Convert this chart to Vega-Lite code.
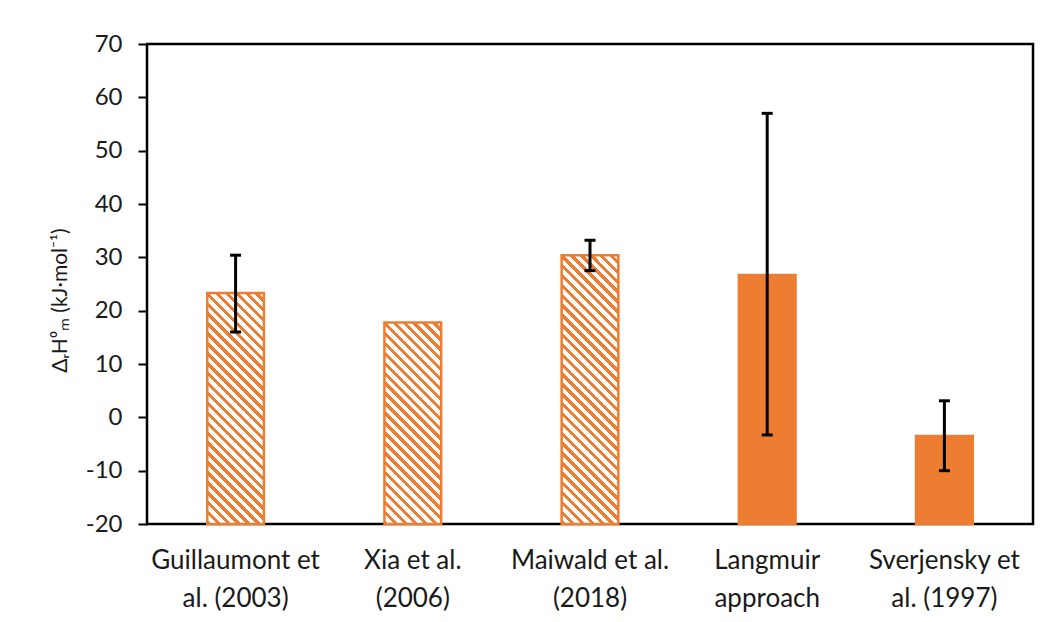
{
  "$schema": "https://vega.github.io/schema/vega-lite/v6.json",
  "autosize": {"type": "none"},
  "padding": {"left": 147, "top": 44, "right": 12, "bottom": 98},
  "width": 886,
  "height": 480,
  "background": "white",
  "config": {
    "view": {"stroke": "black", "strokeWidth": 2.5},
    "font": "Lato"
  },
  "data": {
    "values": [
      {"study": "Guillaumont et\nal. (2003)", "key": "G", "value": 23.3, "lo": 16.0, "hi": 30.4},
      {"study": "Xia et al.\n(2006)", "key": "X", "value": 17.8, "lo": null, "hi": null},
      {"study": "Maiwald et al.\n(2018)", "key": "M", "value": 30.4, "lo": 27.5, "hi": 33.2},
      {"study": "Langmuir\napproach", "key": "L", "value": 26.7, "lo": -3.3, "hi": 57.0},
      {"study": "Sverjensky et\nal. (1997)", "key": "S", "value": -3.5, "lo": -10.0, "hi": 3.1}
    ]
  },
  "encoding": {
    "x": {
      "field": "study", "type": "nominal", "sort": null,
      "scale": {"paddingInner": 0.68, "paddingOuter": 0.34},
      "axis": {
        "title": null, "labelAngle": 0, "ticks": false, "domain": false,
        "labelExpr": "split(datum.label, '\\n')",
        "labelFont": "Lato", "labelFontSize": 26, "labelColor": "#1a1a1a",
        "labelLineHeight": 38, "labelBaseline": "top", "labelPadding": 23,
        "labelLimit": 400
      }
    }
  },
  "layer": [
    {
      "mark": {"type": "bar", "stroke": "#ED7D31", "strokeWidth": 2.5},
      "encoding": {
        "y": {
          "field": "value", "type": "quantitative",
          "scale": {"domain": [-20, 70], "nice": false, "zero": false},
          "axis": {
            "values": [-20, -10, 0, 10, 20, 30, 40, 50, 60, 70],
            "labelExpr": "toString(datum.value)",
            "grid": false, "domain": false,
            "tickColor": "black", "tickSize": 9, "tickWidth": 2,
            "labelFont": "Lato", "labelFontSize": 24, "labelColor": "#1a1a1a", "labelPadding": 16,
            "title": "ΔᵣH⁰ₘ (kJ·mol⁻¹)",
            "titleFont": "Lato", "titleFontSize": 21, "titleFontWeight": "normal", "titleColor": "#1a1a1a",
            "titleX": -87, "titleY": 256, "titleAlign": "center", "titleBaseline": "middle"
          }
        },
        "y2": {"datum": -20},
        "fill": {
          "condition": [
            {"test": "datum.key === 'G'", "value": {"gradient": "linear", "x1": 0, "y1": 1, "x2": 0.2885, "y2": -0.1748, "stops": [
              {"offset": 0, "color": "#ED7D31"}, {"offset": 0.0155, "color": "#ED7D31"}, {"offset": 0.0155, "color": "#fff"}, {"offset": 0.0345, "color": "#fff"},
              {"offset": 0.0345, "color": "#ED7D31"}, {"offset": 0.05, "color": "#ED7D31"}, {"offset": 0.05, "color": "#fff"}, {"offset": 0.069, "color": "#fff"},
              {"offset": 0.069, "color": "#ED7D31"}, {"offset": 0.0845, "color": "#ED7D31"}, {"offset": 0.0845, "color": "#fff"}, {"offset": 0.1034, "color": "#fff"},
              {"offset": 0.1034, "color": "#ED7D31"}, {"offset": 0.119, "color": "#ED7D31"}, {"offset": 0.119, "color": "#fff"}, {"offset": 0.1379, "color": "#fff"},
              {"offset": 0.1379, "color": "#ED7D31"}, {"offset": 0.1534, "color": "#ED7D31"}, {"offset": 0.1534, "color": "#fff"}, {"offset": 0.1724, "color": "#fff"},
              {"offset": 0.1724, "color": "#ED7D31"}, {"offset": 0.1879, "color": "#ED7D31"}, {"offset": 0.1879, "color": "#fff"}, {"offset": 0.2069, "color": "#fff"},
              {"offset": 0.2069, "color": "#ED7D31"}, {"offset": 0.2224, "color": "#ED7D31"}, {"offset": 0.2224, "color": "#fff"}, {"offset": 0.2414, "color": "#fff"},
              {"offset": 0.2414, "color": "#ED7D31"}, {"offset": 0.2569, "color": "#ED7D31"}, {"offset": 0.2569, "color": "#fff"}, {"offset": 0.2759, "color": "#fff"},
              {"offset": 0.2759, "color": "#ED7D31"}, {"offset": 0.2914, "color": "#ED7D31"}, {"offset": 0.2914, "color": "#fff"}, {"offset": 0.3103, "color": "#fff"},
              {"offset": 0.3103, "color": "#ED7D31"}, {"offset": 0.3259, "color": "#ED7D31"}, {"offset": 0.3259, "color": "#fff"}, {"offset": 0.3448, "color": "#fff"},
              {"offset": 0.3448, "color": "#ED7D31"}, {"offset": 0.3603, "color": "#ED7D31"}, {"offset": 0.3603, "color": "#fff"}, {"offset": 0.3793, "color": "#fff"},
              {"offset": 0.3793, "color": "#ED7D31"}, {"offset": 0.3948, "color": "#ED7D31"}, {"offset": 0.3948, "color": "#fff"}, {"offset": 0.4138, "color": "#fff"},
              {"offset": 0.4138, "color": "#ED7D31"}, {"offset": 0.4293, "color": "#ED7D31"}, {"offset": 0.4293, "color": "#fff"}, {"offset": 0.4483, "color": "#fff"},
              {"offset": 0.4483, "color": "#ED7D31"}, {"offset": 0.4638, "color": "#ED7D31"}, {"offset": 0.4638, "color": "#fff"}, {"offset": 0.4828, "color": "#fff"},
              {"offset": 0.4828, "color": "#ED7D31"}, {"offset": 0.4983, "color": "#ED7D31"}, {"offset": 0.4983, "color": "#fff"}, {"offset": 0.5172, "color": "#fff"},
              {"offset": 0.5172, "color": "#ED7D31"}, {"offset": 0.5328, "color": "#ED7D31"}, {"offset": 0.5328, "color": "#fff"}, {"offset": 0.5517, "color": "#fff"},
              {"offset": 0.5517, "color": "#ED7D31"}, {"offset": 0.5672, "color": "#ED7D31"}, {"offset": 0.5672, "color": "#fff"}, {"offset": 0.5862, "color": "#fff"},
              {"offset": 0.5862, "color": "#ED7D31"}, {"offset": 0.6017, "color": "#ED7D31"}, {"offset": 0.6017, "color": "#fff"}, {"offset": 0.6207, "color": "#fff"},
              {"offset": 0.6207, "color": "#ED7D31"}, {"offset": 0.6362, "color": "#ED7D31"}, {"offset": 0.6362, "color": "#fff"}, {"offset": 0.6552, "color": "#fff"},
              {"offset": 0.6552, "color": "#ED7D31"}, {"offset": 0.6707, "color": "#ED7D31"}, {"offset": 0.6707, "color": "#fff"}, {"offset": 0.6897, "color": "#fff"},
              {"offset": 0.6897, "color": "#ED7D31"}, {"offset": 0.7052, "color": "#ED7D31"}, {"offset": 0.7052, "color": "#fff"}, {"offset": 0.7241, "color": "#fff"},
              {"offset": 0.7241, "color": "#ED7D31"}, {"offset": 0.7397, "color": "#ED7D31"}, {"offset": 0.7397, "color": "#fff"}, {"offset": 0.7586, "color": "#fff"},
              {"offset": 0.7586, "color": "#ED7D31"}, {"offset": 0.7741, "color": "#ED7D31"}, {"offset": 0.7741, "color": "#fff"}, {"offset": 0.7931, "color": "#fff"},
              {"offset": 0.7931, "color": "#ED7D31"}, {"offset": 0.8086, "color": "#ED7D31"}, {"offset": 0.8086, "color": "#fff"}, {"offset": 0.8276, "color": "#fff"},
              {"offset": 0.8276, "color": "#ED7D31"}, {"offset": 0.8431, "color": "#ED7D31"}, {"offset": 0.8431, "color": "#fff"}, {"offset": 0.8621, "color": "#fff"},
              {"offset": 0.8621, "color": "#ED7D31"}, {"offset": 0.8776, "color": "#ED7D31"}, {"offset": 0.8776, "color": "#fff"}, {"offset": 0.8966, "color": "#fff"},
              {"offset": 0.8966, "color": "#ED7D31"}, {"offset": 0.9121, "color": "#ED7D31"}, {"offset": 0.9121, "color": "#fff"}, {"offset": 0.931, "color": "#fff"},
              {"offset": 0.931, "color": "#ED7D31"}, {"offset": 0.9466, "color": "#ED7D31"}, {"offset": 0.9466, "color": "#fff"}, {"offset": 0.9655, "color": "#fff"},
              {"offset": 0.9655, "color": "#ED7D31"}, {"offset": 0.981, "color": "#ED7D31"}, {"offset": 0.981, "color": "#fff"}, {"offset": 1, "color": "#fff"}
            ]}},
            {"test": "datum.key === 'X'", "value": {"gradient": "linear", "x1": 0, "y1": 1, "x2": 0.3339, "y2": -0.1873, "stops": [
              {"offset": 0, "color": "#ED7D31"}, {"offset": 0.0173, "color": "#ED7D31"}, {"offset": 0.0173, "color": "#fff"}, {"offset": 0.0385, "color": "#fff"},
              {"offset": 0.0385, "color": "#ED7D31"}, {"offset": 0.0558, "color": "#ED7D31"}, {"offset": 0.0558, "color": "#fff"}, {"offset": 0.0769, "color": "#fff"},
              {"offset": 0.0769, "color": "#ED7D31"}, {"offset": 0.0942, "color": "#ED7D31"}, {"offset": 0.0942, "color": "#fff"}, {"offset": 0.1154, "color": "#fff"},
              {"offset": 0.1154, "color": "#ED7D31"}, {"offset": 0.1327, "color": "#ED7D31"}, {"offset": 0.1327, "color": "#fff"}, {"offset": 0.1538, "color": "#fff"},
              {"offset": 0.1538, "color": "#ED7D31"}, {"offset": 0.1712, "color": "#ED7D31"}, {"offset": 0.1712, "color": "#fff"}, {"offset": 0.1923, "color": "#fff"},
              {"offset": 0.1923, "color": "#ED7D31"}, {"offset": 0.2096, "color": "#ED7D31"}, {"offset": 0.2096, "color": "#fff"}, {"offset": 0.2308, "color": "#fff"},
              {"offset": 0.2308, "color": "#ED7D31"}, {"offset": 0.2481, "color": "#ED7D31"}, {"offset": 0.2481, "color": "#fff"}, {"offset": 0.2692, "color": "#fff"},
              {"offset": 0.2692, "color": "#ED7D31"}, {"offset": 0.2865, "color": "#ED7D31"}, {"offset": 0.2865, "color": "#fff"}, {"offset": 0.3077, "color": "#fff"},
              {"offset": 0.3077, "color": "#ED7D31"}, {"offset": 0.325, "color": "#ED7D31"}, {"offset": 0.325, "color": "#fff"}, {"offset": 0.3462, "color": "#fff"},
              {"offset": 0.3462, "color": "#ED7D31"}, {"offset": 0.3635, "color": "#ED7D31"}, {"offset": 0.3635, "color": "#fff"}, {"offset": 0.3846, "color": "#fff"},
              {"offset": 0.3846, "color": "#ED7D31"}, {"offset": 0.4019, "color": "#ED7D31"}, {"offset": 0.4019, "color": "#fff"}, {"offset": 0.4231, "color": "#fff"},
              {"offset": 0.4231, "color": "#ED7D31"}, {"offset": 0.4404, "color": "#ED7D31"}, {"offset": 0.4404, "color": "#fff"}, {"offset": 0.4615, "color": "#fff"},
              {"offset": 0.4615, "color": "#ED7D31"}, {"offset": 0.4788, "color": "#ED7D31"}, {"offset": 0.4788, "color": "#fff"}, {"offset": 0.5, "color": "#fff"},
              {"offset": 0.5, "color": "#ED7D31"}, {"offset": 0.5173, "color": "#ED7D31"}, {"offset": 0.5173, "color": "#fff"}, {"offset": 0.5385, "color": "#fff"},
              {"offset": 0.5385, "color": "#ED7D31"}, {"offset": 0.5558, "color": "#ED7D31"}, {"offset": 0.5558, "color": "#fff"}, {"offset": 0.5769, "color": "#fff"},
              {"offset": 0.5769, "color": "#ED7D31"}, {"offset": 0.5942, "color": "#ED7D31"}, {"offset": 0.5942, "color": "#fff"}, {"offset": 0.6154, "color": "#fff"},
              {"offset": 0.6154, "color": "#ED7D31"}, {"offset": 0.6327, "color": "#ED7D31"}, {"offset": 0.6327, "color": "#fff"}, {"offset": 0.6538, "color": "#fff"},
              {"offset": 0.6538, "color": "#ED7D31"}, {"offset": 0.6712, "color": "#ED7D31"}, {"offset": 0.6712, "color": "#fff"}, {"offset": 0.6923, "color": "#fff"},
              {"offset": 0.6923, "color": "#ED7D31"}, {"offset": 0.7096, "color": "#ED7D31"}, {"offset": 0.7096, "color": "#fff"}, {"offset": 0.7308, "color": "#fff"},
              {"offset": 0.7308, "color": "#ED7D31"}, {"offset": 0.7481, "color": "#ED7D31"}, {"offset": 0.7481, "color": "#fff"}, {"offset": 0.7692, "color": "#fff"},
              {"offset": 0.7692, "color": "#ED7D31"}, {"offset": 0.7865, "color": "#ED7D31"}, {"offset": 0.7865, "color": "#fff"}, {"offset": 0.8077, "color": "#fff"},
              {"offset": 0.8077, "color": "#ED7D31"}, {"offset": 0.825, "color": "#ED7D31"}, {"offset": 0.825, "color": "#fff"}, {"offset": 0.8462, "color": "#fff"},
              {"offset": 0.8462, "color": "#ED7D31"}, {"offset": 0.8635, "color": "#ED7D31"}, {"offset": 0.8635, "color": "#fff"}, {"offset": 0.8846, "color": "#fff"},
              {"offset": 0.8846, "color": "#ED7D31"}, {"offset": 0.9019, "color": "#ED7D31"}, {"offset": 0.9019, "color": "#fff"}, {"offset": 0.9231, "color": "#fff"},
              {"offset": 0.9231, "color": "#ED7D31"}, {"offset": 0.9404, "color": "#ED7D31"}, {"offset": 0.9404, "color": "#fff"}, {"offset": 0.9615, "color": "#fff"},
              {"offset": 0.9615, "color": "#ED7D31"}, {"offset": 0.9788, "color": "#ED7D31"}, {"offset": 0.9788, "color": "#fff"}, {"offset": 1, "color": "#fff"}
            ]}},
            {"test": "datum.key === 'M'", "value": {"gradient": "linear", "x1": 0, "y1": 1, "x2": 0.2446, "y2": -0.1594, "stops": [
              {"offset": 0, "color": "#ED7D31"}, {"offset": 0.0136, "color": "#ED7D31"}, {"offset": 0.0136, "color": "#fff"}, {"offset": 0.0303, "color": "#fff"},
              {"offset": 0.0303, "color": "#ED7D31"}, {"offset": 0.0439, "color": "#ED7D31"}, {"offset": 0.0439, "color": "#fff"}, {"offset": 0.0606, "color": "#fff"},
              {"offset": 0.0606, "color": "#ED7D31"}, {"offset": 0.0742, "color": "#ED7D31"}, {"offset": 0.0742, "color": "#fff"}, {"offset": 0.0909, "color": "#fff"},
              {"offset": 0.0909, "color": "#ED7D31"}, {"offset": 0.1045, "color": "#ED7D31"}, {"offset": 0.1045, "color": "#fff"}, {"offset": 0.1212, "color": "#fff"},
              {"offset": 0.1212, "color": "#ED7D31"}, {"offset": 0.1348, "color": "#ED7D31"}, {"offset": 0.1348, "color": "#fff"}, {"offset": 0.1515, "color": "#fff"},
              {"offset": 0.1515, "color": "#ED7D31"}, {"offset": 0.1652, "color": "#ED7D31"}, {"offset": 0.1652, "color": "#fff"}, {"offset": 0.1818, "color": "#fff"},
              {"offset": 0.1818, "color": "#ED7D31"}, {"offset": 0.1955, "color": "#ED7D31"}, {"offset": 0.1955, "color": "#fff"}, {"offset": 0.2121, "color": "#fff"},
              {"offset": 0.2121, "color": "#ED7D31"}, {"offset": 0.2258, "color": "#ED7D31"}, {"offset": 0.2258, "color": "#fff"}, {"offset": 0.2424, "color": "#fff"},
              {"offset": 0.2424, "color": "#ED7D31"}, {"offset": 0.2561, "color": "#ED7D31"}, {"offset": 0.2561, "color": "#fff"}, {"offset": 0.2727, "color": "#fff"},
              {"offset": 0.2727, "color": "#ED7D31"}, {"offset": 0.2864, "color": "#ED7D31"}, {"offset": 0.2864, "color": "#fff"}, {"offset": 0.303, "color": "#fff"},
              {"offset": 0.303, "color": "#ED7D31"}, {"offset": 0.3167, "color": "#ED7D31"}, {"offset": 0.3167, "color": "#fff"}, {"offset": 0.3333, "color": "#fff"},
              {"offset": 0.3333, "color": "#ED7D31"}, {"offset": 0.347, "color": "#ED7D31"}, {"offset": 0.347, "color": "#fff"}, {"offset": 0.3636, "color": "#fff"},
              {"offset": 0.3636, "color": "#ED7D31"}, {"offset": 0.3773, "color": "#ED7D31"}, {"offset": 0.3773, "color": "#fff"}, {"offset": 0.3939, "color": "#fff"},
              {"offset": 0.3939, "color": "#ED7D31"}, {"offset": 0.4076, "color": "#ED7D31"}, {"offset": 0.4076, "color": "#fff"}, {"offset": 0.4242, "color": "#fff"},
              {"offset": 0.4242, "color": "#ED7D31"}, {"offset": 0.4379, "color": "#ED7D31"}, {"offset": 0.4379, "color": "#fff"}, {"offset": 0.4545, "color": "#fff"},
              {"offset": 0.4545, "color": "#ED7D31"}, {"offset": 0.4682, "color": "#ED7D31"}, {"offset": 0.4682, "color": "#fff"}, {"offset": 0.4848, "color": "#fff"},
              {"offset": 0.4848, "color": "#ED7D31"}, {"offset": 0.4985, "color": "#ED7D31"}, {"offset": 0.4985, "color": "#fff"}, {"offset": 0.5152, "color": "#fff"},
              {"offset": 0.5152, "color": "#ED7D31"}, {"offset": 0.5288, "color": "#ED7D31"}, {"offset": 0.5288, "color": "#fff"}, {"offset": 0.5455, "color": "#fff"},
              {"offset": 0.5455, "color": "#ED7D31"}, {"offset": 0.5591, "color": "#ED7D31"}, {"offset": 0.5591, "color": "#fff"}, {"offset": 0.5758, "color": "#fff"},
              {"offset": 0.5758, "color": "#ED7D31"}, {"offset": 0.5894, "color": "#ED7D31"}, {"offset": 0.5894, "color": "#fff"}, {"offset": 0.6061, "color": "#fff"},
              {"offset": 0.6061, "color": "#ED7D31"}, {"offset": 0.6197, "color": "#ED7D31"}, {"offset": 0.6197, "color": "#fff"}, {"offset": 0.6364, "color": "#fff"},
              {"offset": 0.6364, "color": "#ED7D31"}, {"offset": 0.65, "color": "#ED7D31"}, {"offset": 0.65, "color": "#fff"}, {"offset": 0.6667, "color": "#fff"},
              {"offset": 0.6667, "color": "#ED7D31"}, {"offset": 0.6803, "color": "#ED7D31"}, {"offset": 0.6803, "color": "#fff"}, {"offset": 0.697, "color": "#fff"},
              {"offset": 0.697, "color": "#ED7D31"}, {"offset": 0.7106, "color": "#ED7D31"}, {"offset": 0.7106, "color": "#fff"}, {"offset": 0.7273, "color": "#fff"},
              {"offset": 0.7273, "color": "#ED7D31"}, {"offset": 0.7409, "color": "#ED7D31"}, {"offset": 0.7409, "color": "#fff"}, {"offset": 0.7576, "color": "#fff"},
              {"offset": 0.7576, "color": "#ED7D31"}, {"offset": 0.7712, "color": "#ED7D31"}, {"offset": 0.7712, "color": "#fff"}, {"offset": 0.7879, "color": "#fff"},
              {"offset": 0.7879, "color": "#ED7D31"}, {"offset": 0.8015, "color": "#ED7D31"}, {"offset": 0.8015, "color": "#fff"}, {"offset": 0.8182, "color": "#fff"},
              {"offset": 0.8182, "color": "#ED7D31"}, {"offset": 0.8318, "color": "#ED7D31"}, {"offset": 0.8318, "color": "#fff"}, {"offset": 0.8485, "color": "#fff"},
              {"offset": 0.8485, "color": "#ED7D31"}, {"offset": 0.8621, "color": "#ED7D31"}, {"offset": 0.8621, "color": "#fff"}, {"offset": 0.8788, "color": "#fff"},
              {"offset": 0.8788, "color": "#ED7D31"}, {"offset": 0.8924, "color": "#ED7D31"}, {"offset": 0.8924, "color": "#fff"}, {"offset": 0.9091, "color": "#fff"},
              {"offset": 0.9091, "color": "#ED7D31"}, {"offset": 0.9227, "color": "#ED7D31"}, {"offset": 0.9227, "color": "#fff"}, {"offset": 0.9394, "color": "#fff"},
              {"offset": 0.9394, "color": "#ED7D31"}, {"offset": 0.953, "color": "#ED7D31"}, {"offset": 0.953, "color": "#fff"}, {"offset": 0.9697, "color": "#fff"},
              {"offset": 0.9697, "color": "#ED7D31"}, {"offset": 0.9833, "color": "#ED7D31"}, {"offset": 0.9833, "color": "#fff"}, {"offset": 1, "color": "#fff"}
            ]}}
          ],
          "value": "#ED7D31"
        }
      }
    },
    {
      "transform": [{"filter": "datum.lo != null"}],
      "mark": {"type": "rule", "color": "black", "strokeWidth": 3},
      "encoding": {
        "y": {"field": "lo", "type": "quantitative"},
        "y2": {"field": "hi"}
      }
    },
    {
      "transform": [{"filter": "datum.lo != null"}],
      "mark": {"type": "tick", "color": "black", "size": 11, "thickness": 3, "opacity": 1},
      "encoding": {
        "y": {"field": "lo", "type": "quantitative"}
      }
    },
    {
      "transform": [{"filter": "datum.hi != null"}],
      "mark": {"type": "tick", "color": "black", "size": 11, "thickness": 3, "opacity": 1},
      "encoding": {
        "y": {"field": "hi", "type": "quantitative"}
      }
    }
  ]
}
